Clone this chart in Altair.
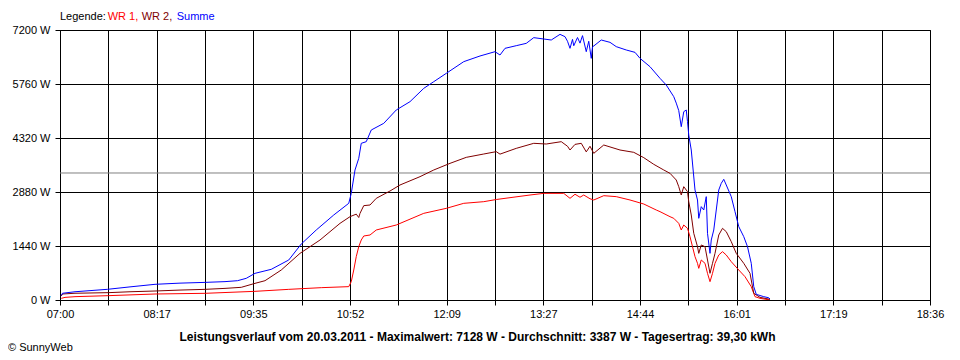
import json
import altair as alt
import pandas as pd

# ---------------- data ----------------
tick_labels = ["07:00", "08:17", "09:35", "10:52", "12:09", "13:27",
               "14:44", "16:01", "17:19", "18:36"]
y_ticks = [0, 1440, 2880, 4320, 5760, 7200]
average_w = 3387
series_names = ["WR 1", "WR 2", "Summe"]
series_colors = ["#ff0000", "#800000", "#0000ff"]

wr1_time = ["07:01", "07:04", "07:12", "07:39", "08:16", "08:56", "09:36", "10:03",
            "10:29", "10:51", "10:53", "10:55", "10:57", "10:59", "11:01", "11:03",
            "11:08", "11:13", "11:29", "11:51", "12:09", "12:23", "12:39", "12:49",
            "13:16", "13:27", "13:43", "13:48", "13:52", "13:56", "13:59", "14:04",
            "14:07", "14:15", "14:25", "14:36", "14:47", "14:57", "15:00", "15:08",
            "15:11", "15:15", "15:17", "15:19", "15:22", "15:24", "15:26", "15:28",
            "15:30", "15:31", "15:33", "15:36", "15:38", "15:40", "15:42", "15:44",
            "15:47", "15:50", "15:53", "15:57", "16:03", "16:08", "16:13", "16:16",
            "16:20", "16:28"]
wr1_w = [44, 70, 89, 116, 160, 178, 231, 284,
         329, 356, 489, 800, 1156, 1422, 1600, 1707,
         1733, 1867, 2000, 2311, 2444, 2578, 2622, 2680,
         2800, 2844, 2844, 2711, 2820, 2740, 2800, 2700,
         2667, 2782, 2756, 2667, 2560, 2400, 2356, 2222,
         2178, 2044, 1867, 2000, 1911, 1689, 1422, 1156,
         978, 844, 1067, 978, 711, 489, 711, 978,
         1200, 1289, 1200, 1022, 800, 622, 356, 89,
         44, 0]

wr2_time = ["07:01", "07:02", "07:12", "07:39", "07:56", "08:16", "08:36", "08:56",
            "09:12", "09:25", "09:36", "09:44", "09:57", "10:12", "10:28", "10:44",
            "10:52", "10:57", "10:59", "11:00", "11:03", "11:08", "11:13", "11:24",
            "11:32", "11:48", "11:59", "12:12", "12:25", "12:39", "12:49", "12:52",
            "13:05", "13:19", "13:29", "13:41", "13:46", "13:48", "13:52", "13:57",
            "14:01", "14:04", "14:07", "14:15", "14:28", "14:39", "14:47", "14:55",
            "15:03", "15:08", "15:13", "15:15", "15:17", "15:19", "15:22", "15:23",
            "15:25", "15:27", "15:30", "15:31", "15:33", "15:36", "15:38", "15:40",
            "15:42", "15:44", "15:47", "15:50", "15:53", "15:57", "16:01", "16:07",
            "16:12", "16:15", "16:20", "16:28"]
wr2_w = [107, 160, 180, 196, 220, 240, 265, 284,
         310, 338, 444, 515, 800, 1244, 1600, 2044,
         2222, 2290, 2200, 2311, 2516, 2533, 2711, 2907,
         3067, 3289, 3467, 3644, 3804, 3893, 3956, 3890,
         4044, 4178, 4160, 4222, 4100, 4000, 4150, 4178,
         3950, 4100, 3911, 4133, 4000, 3938, 3796, 3618,
         3467, 3378, 3200, 3022, 2800, 3022, 2889, 2622,
         2267, 1778, 1422, 1244, 1467, 1422, 1067, 711,
         978, 1244, 1733, 1911, 1822, 1556, 1244, 978,
         711, 178, 71, 18]

sum_time = ["07:01", "07:02", "07:12", "07:24", "07:38", "07:56", "08:16", "08:36",
            "08:56", "09:12", "09:22", "09:29", "09:36", "09:49", "10:03", "10:13",
            "10:25", "10:39", "10:51", "10:53", "10:56", "10:59", "11:01", "11:05",
            "11:09", "11:19", "11:29", "11:40", "11:51", "11:59", "12:09", "12:23",
            "12:36", "12:48", "12:52", "12:56", "13:05", "13:13", "13:19", "13:27",
            "13:33", "13:40", "13:44", "13:46", "13:48", "13:50", "13:51", "13:54",
            "13:56", "13:58", "14:01", "14:03", "14:05", "14:06", "14:08", "14:13",
            "14:20", "14:25", "14:33", "14:40", "14:44", "14:52", "15:00", "15:05",
            "15:11", "15:13", "15:15", "15:17", "15:19", "15:21", "15:22", "15:23",
            "15:25", "15:28", "15:30", "15:31", "15:33", "15:35", "15:37", "15:38",
            "15:40", "15:41", "15:43", "15:45", "15:47", "15:49", "15:51", "15:53",
            "15:57", "16:00", "16:03", "16:07", "16:10", "16:13", "16:15", "16:17",
            "16:23", "16:27", "16:28"]
sum_w = [120, 180, 220, 250, 285, 350, 418, 450,
         470, 490, 515, 578, 711, 818, 1067, 1493,
         1867, 2267, 2578, 2844, 3467, 3778, 4178, 4222,
         4533, 4711, 5067, 5289, 5644, 5822, 6044, 6356,
         6507, 6622, 6533, 6711, 6782, 6844, 6996, 6960,
         6933, 7084, 7022, 6900, 6711, 6950, 6780, 7000,
         6850, 7050, 6622, 6900, 6444, 6750, 6800, 6933,
         6871, 6756, 6667, 6604, 6444, 6222, 5911, 5733,
         5422, 5250, 5050, 4622, 5022, 5067, 4756, 4400,
         4000, 2933, 2667, 2178, 2489, 2400, 2756, 1778,
         1244, 1600, 1867, 2400, 2933, 3111, 3218, 3067,
         2756, 2356, 1956, 1689, 1422, 978, 356, 151,
         89, 60, 27]

title_text = ("Leistungsverlauf vom 20.03.2011 - Maximalwert: 7128 W - "
              "Durchschnitt: 3387 W - Tagesertrag: 39,30 kWh")

# ---------------- build table ----------------
def to_min(s):
    h, m = s.split(":")
    return int(h) * 60 + int(m) - 420

rows = []
for name, times, vals in zip(series_names,
                             [wr1_time, wr2_time, sum_time],
                             [wr1_w, wr2_w, sum_w]):
    for t, v in zip(times, vals):
        rows.append({"series": name, "t": to_min(t), "W": v})
df = pd.DataFrame(rows)

span = 696
n_int = 18
x_vals = [i * span / n_int for i in range(n_int + 1)]
labels19 = []
for i, lab in enumerate(tick_labels):
    labels19.append(lab)
    if i < len(tick_labels) - 1:
        labels19.append("")
x_label_expr = json.dumps(labels19) + "[round(datum.value*%d/%d)]" % (n_int, span)

FONT = "Liberation Sans"

x_enc = alt.X("t:Q",
              scale=alt.Scale(domain=[0, span], nice=False, zero=False),
              axis=alt.Axis(values=x_vals, labelExpr=x_label_expr, title=None,
                            labelPadding=3, labelAngle=0, labelFlush=False,
                            labelOverlap=False))
y_enc = alt.Y("W:Q",
              scale=alt.Scale(domain=[0, 7200], nice=False),
              axis=alt.Axis(values=y_ticks, labelExpr="datum.value + ' W'",
                            title=None, labelPadding=5, labelFlush=False,
                            labelOverlap=False))

avg_rule = alt.Chart(pd.DataFrame({"W": [average_w]})).mark_rule(
    color="#808080", strokeWidth=1).encode(y=alt.Y("W:Q"))

lines = []
for name, col in zip(series_names, series_colors):
    lines.append(
        alt.Chart(df[df.series == name]).mark_line(
            strokeWidth=1, color=col, clip=True
        ).encode(x=x_enc, y=y_enc)
    )


def txt(s, x, y, color="black", bold=False, size=11, align="left"):
    return alt.Chart(pd.DataFrame({"s": [s]})).mark_text(
        align=align, baseline="middle", font=FONT, fontSize=size,
        fontWeight="bold" if bold else "normal", color=color
    ).encode(text="s:N", x=alt.value(x), y=alt.value(y))


texts = [
    txt("Legende:", 0, -13),
    txt("WR 1,", 47.7, -13, series_colors[0]),
    txt("WR 2,", 81.7, -13, series_colors[1]),
    txt("Summe", 116.7, -13, series_colors[2]),
    txt(title_text, 417.5, 307, bold=True, size=12, align="center"),
    txt("\u00a9 SunnyWeb", -52, 318),
]

chart = alt.layer(avg_rule, *lines, *texts).properties(
    width=870, height=270,
    padding={"left": 52, "top": 22, "right": 22, "bottom": 60},
    autosize=alt.AutoSizeParams(type="none"),
    background="white",
).configure_axis(
    grid=True, gridColor="black", gridOpacity=1, gridWidth=1,
    domainColor="black", domainWidth=1, tickColor="black", tickSize=5,
    tickWidth=1, labelColor="black", labelFont=FONT, labelFontSize=11,
).configure_view(stroke="black", strokeWidth=1)

chart.save("out.html", embed_options={"renderer": "svg", "actions": False})
